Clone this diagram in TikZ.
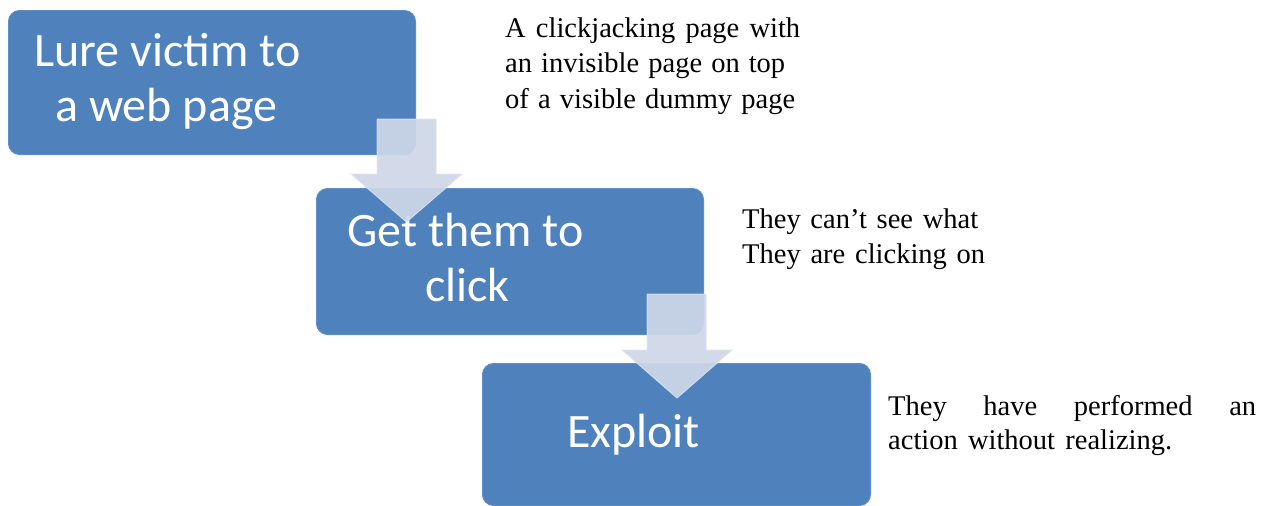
\documentclass[tikz,border=0pt]{standalone}
\usepackage{fontspec}
\setmainfont{Liberation Serif}
\newfontfamily\boxfont{Carlito}
\definecolor{stepblue}{HTML}{4F81BD}
\definecolor{stepedge}{RGB}{96,141,196}
\definecolor{arrowfill}{RGB}{207,215,232}
\definecolor{arrowedge}{RGB}{222,228,240}

\tikzset{
  stepbox/.style={draw=stepedge, line width=1pt, fill=stepblue,
    rounded corners=11pt, inner sep=0pt, anchor=north west},
  boxtext/.style={text=white, inner sep=0pt, anchor=base west,
    font=\boxfont\fontsize{48}{55}\selectfont},
  note/.style={text=black, inner sep=0pt, anchor=base west,
    font=\fontsize{28.5}{35.5}\selectfont},
  downarrow/.style={fill=arrowfill, fill opacity=0.92,
    draw=arrowedge, draw opacity=0.8, line width=1pt, line join=miter}
}
% a line of note text spread to a given width
\newcommand{\spreadline}[2]{\makebox[#1pt][s]{#2}}

\begin{document}
\begin{tikzpicture}[x=1pt,y=-1pt]
\useasboundingbox (0,0) rectangle (1272,506);
\fill[white] (0,0) rectangle (1272,506);

% process steps
\node[stepbox, minimum width=407pt, minimum height=144pt] (lure) at (8,10) {};
\node[stepbox, minimum width=387pt, minimum height=146pt] (click) at (316,188) {};
\node[stepbox, minimum width=388pt, minimum height=142pt] (exploit) at (482,363) {};

\node[boxtext] (lure1) at (34,66) {Lure victim to};
\node[boxtext] (lure2) at (55,121) {a web page};
\node[boxtext] (click1) at (347,246) {Get them to};
\node[boxtext] (click2) at (425,301) {click};
\node[boxtext] (exploit1) at (567,447) {Exploit};

% block arrows between the steps
\path[downarrow] (377,119) -- (436,119) -- (436,174) -- (462,174)
  -- (406.5,222) -- (351,174) -- (377,174) -- cycle;
\path[downarrow] (647,294) -- (706,294) -- (706,350) -- (732,350)
  -- (677,398) -- (622,350) -- (647,350) -- cycle;

% side notes
\node[note] (n1a) at (505,37) {\spreadline{295}{A clickjacking page with}};
\node[note] (n1b) at (505,72.5) {\spreadline{280}{an invisible page on top}};
\node[note] (n1c) at (505,108) {\spreadline{290}{of a visible dummy page}};

\node[note] (n2a) at (742,228) {\spreadline{236}{They can’t see what}};
\node[note] (n2b) at (742,263) {\spreadline{243}{They are clicking on}};

\node[note] (n3a) at (888,415) {\spreadline{368}{They have performed an}};
\node[note] (n3b) at (888,449) {\spreadline{284}{action without realizing.}};
\end{tikzpicture}
\end{document}
